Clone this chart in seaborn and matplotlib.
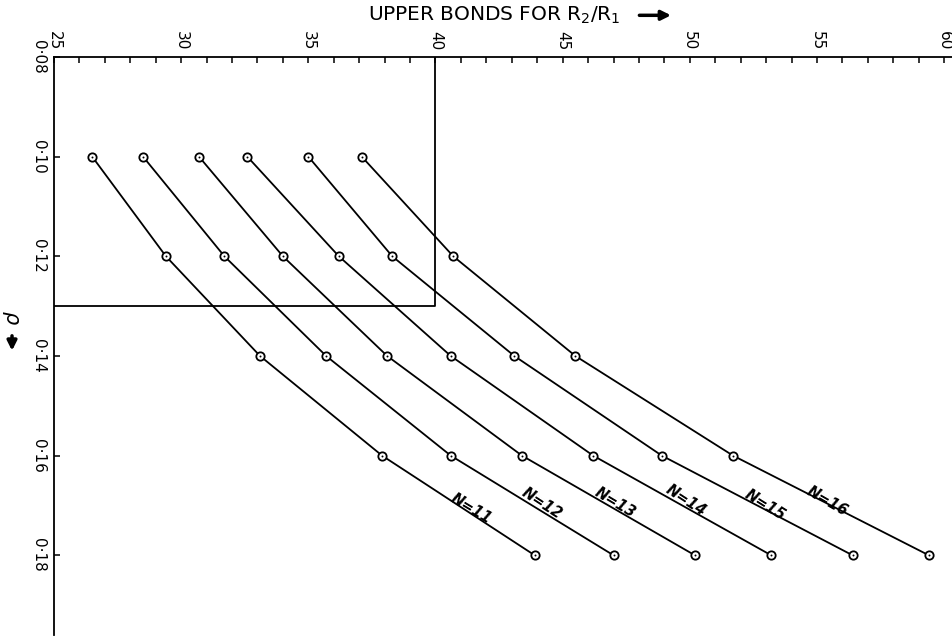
import numpy as np
import pandas as pd
import matplotlib
matplotlib.use("Agg")
import matplotlib.pyplot as plt
import seaborn as sns
from matplotlib.ticker import FixedLocator, MultipleLocator

# ---------------- data ----------------
rho = [0.10, 0.12, 0.14, 0.16, 0.18]
n_values = [11, 12, 13, 14, 15, 16]
upper_n11 = [26.5, 29.4, 33.1, 37.9, 43.9]
upper_n12 = [28.5, 31.7, 35.7, 40.6, 47.0]
upper_n13 = [30.7, 34.0, 38.1, 43.4, 50.2]
upper_n14 = [32.6, 36.2, 40.6, 46.2, 53.2]
upper_n15 = [35.0, 38.3, 43.1, 48.9, 56.4]
upper_n16 = [37.1, 40.7, 45.5, 51.7, 59.4]
upper_all = [upper_n11, upper_n12, upper_n13, upper_n14, upper_n15, upper_n16]

x_ticks = [25, 30, 35, 40, 45, 50, 55, 60]
x_tick_labels = ["25", "30", "35", "40", "45", "50", "55", "60"]
y_ticks = [0.08, 0.10, 0.12, 0.14, 0.16, 0.18]
y_tick_labels = ["0·08", "0·10", "0·12", "0·14", "0·16", "0·18"]

box_x = [25, 40, 40]
box_y = [0.13, 0.13, 0.08]

curve_labels = ["N=11", "N=12", "N=13", "N=14", "N=15", "N=16"]
label_x = [41.39, 44.17, 47.07, 49.85, 52.95, 55.42]
label_y = [0.1706, 0.1696, 0.1694, 0.1690, 0.1700, 0.1692]
label_rot = [-31, -33, -31, -33, -32, -30]

rows = []
for n, ups in zip(n_values, upper_all):
    for r, u in zip(rho, ups):
        rows.append({"N": n, "rho": r, "upper": u})
df = pd.DataFrame(rows)

# ---------------- figure ----------------
sns.set_theme(style="white")
plt.rcParams["font.family"] = ["DejaVu Sans"]
plt.rcParams["xtick.color"] = "black"
plt.rcParams["ytick.color"] = "black"
plt.rcParams["xtick.labelcolor"] = "black"
plt.rcParams["ytick.labelcolor"] = "black"

fig = plt.figure(figsize=(9.53, 6.38), dpi=100)
ax = fig.add_axes([0.0567, 0.0047, 0.9433, 0.906])

sns.lineplot(data=df, x="upper", y="rho", hue="N", palette=["black"] * 6,
             estimator=None, sort=False, legend=False, ax=ax,
             linewidth=1.3, marker="o", markersize=6,
             markerfacecolor="white", markeredgecolor="black",
             markeredgewidth=1.3)
sns.scatterplot(data=df, x="upper", y="rho", color="black", s=2,
                linewidth=0, legend=False, ax=ax, zorder=5)

ax.plot(box_x, box_y, color="black", linewidth=1.3)

for txt, lx, ly, rot in zip(curve_labels, label_x, label_y, label_rot):
    ax.text(lx, ly, txt, rotation=rot, rotation_mode="anchor",
            ha="center", va="center", fontsize=10.5, fontweight="bold",
            fontstyle="italic", color="black")

ax.set_xlim(25, 60.35)
ax.set_ylim(0.196, 0.08)

ax.xaxis.tick_top()
ax.xaxis.set_major_locator(FixedLocator(x_ticks))
ax.xaxis.set_minor_locator(MultipleLocator(1))
ax.set_xticklabels(x_tick_labels, rotation=-90, fontsize=11, color="black")
ax.yaxis.set_major_locator(FixedLocator(y_ticks))
ax.set_yticklabels(y_tick_labels, rotation=-90, fontsize=11, va="center",
                   color="black")

ax.tick_params(axis="x", which="both", direction="in", length=4,
               width=1.1, color="black", labelcolor="black", pad=5,
               top=True, bottom=False)
ax.tick_params(axis="y", which="both", direction="in", length=4,
               width=1.1, color="black", labelcolor="black", pad=6,
               left=True, right=False)

for side in ["right", "bottom"]:
    ax.spines[side].set_visible(False)
for side in ["top", "left"]:
    ax.spines[side].set_visible(True)
    ax.spines[side].set_color("black")
    ax.spines[side].set_linewidth(1.3)

ax.set_xlabel("")
ax.set_ylabel("")
ax.grid(False)

fig.text(0.519, 0.976, "UPPER BONDS FOR R$_2$/R$_1$", ha="center",
         va="center", fontsize=14.5, color="black")
fig.patches.append(matplotlib.patches.FancyArrowPatch(
    (0.668, 0.976), (0.707, 0.976), transform=fig.transFigure,
    arrowstyle="-|>", mutation_scale=14, linewidth=2.5, color="black"))

fig.text(0.0126, 0.502, "ρ", rotation=-90, ha="center", va="center",
         fontsize=15, fontstyle="italic", color="black")
fig.patches.append(matplotlib.patches.FancyArrowPatch(
    (0.0126, 0.478), (0.0126, 0.446), transform=fig.transFigure,
    arrowstyle="-|>", mutation_scale=14, linewidth=2.5, color="black"))

fig.savefig("out.png", dpi=100, facecolor="white")
